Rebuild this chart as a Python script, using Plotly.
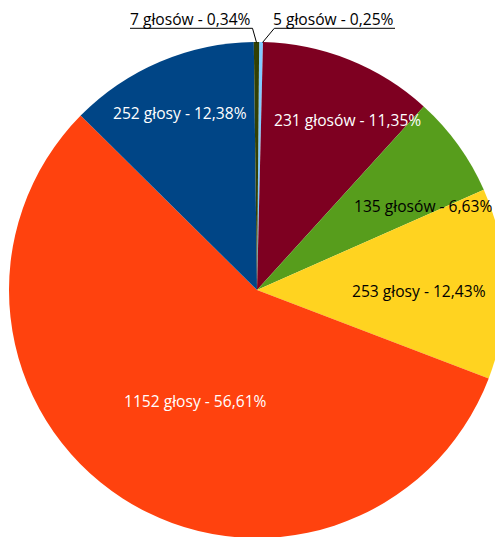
import math
import plotly.graph_objects as go

# Data (clockwise from 12 o'clock)
votes = [5, 231, 135, 253, 1152, 252, 7]
labels = ["5 głosów - 0,25%", "231 głosów - 11,35%", "135 głosów - 6,63%",
          "253 głosy - 12,43%", "1152 głosy - 56,61%", "252 głosy - 12,38%",
          "7 głosów - 0,34%"]
colors = ["#83CAFF", "#7E0021", "#579D1C", "#FFD320", "#FF420E", "#004586", "#314004"]
text_colors = ["#000000", "#FFFFFF", "#000000", "#000000", "#FFFFFF", "#FFFFFF", "#000000"]

W, H = 514, 580
CX, CY, R = 257, 290, 248

fig = go.Figure(go.Pie(
    values=votes,
    labels=labels,
    sort=False,
    direction="clockwise",
    rotation=0.5,
    marker=dict(colors=colors, line=dict(width=0)),
    textinfo="none",
    hoverinfo="label",
    showlegend=False,
    domain=dict(x=[(CX - R) / W, (CX + R) / W], y=[0, 1]),
))

# label positions in pixels (label centre)
label_px = {
    0: (333, 19),
    1: (347, 120),
    2: (423, 206),
    3: (419, 291),
    4: (195, 401),
    5: (180, 113),
    6: (190, 19),
}

FONT = "Open Sans, sans-serif"
annotations = []
for i, (px, py) in label_px.items():
    annotations.append(dict(
        x=px / W, y=1 - py / H, xref="paper", yref="paper",
        text=labels[i], showarrow=False,
        xanchor="center", yanchor="middle",
        font=dict(family=FONT, size=15.6, color=text_colors[i]),
    ))

def px2paper(x, y):
    return x / W, 1 - y / H

shapes = []
# leader lines for tiny slices
for pts in [[(130, 28.3), (252.5, 28.3), (256.5, 42.5)],
            [(395, 28.3), (274.3, 28.3), (262.5, 42.5)]]:
    for (x0, y0), (x1, y1) in zip(pts[:-1], pts[1:]):
        a0 = px2paper(x0, y0)
        a1 = px2paper(x1, y1)
        shapes.append(dict(type="line", xref="paper", yref="paper",
                           x0=a0[0], y0=a0[1], x1=a1[0], y1=a1[1],
                           line=dict(color="#000000", width=1)))

fig.update_layout(
    width=W, height=H,
    margin=dict(l=0, r=0, t=0, b=0),
    paper_bgcolor="#FFFFFF",
    plot_bgcolor="#FFFFFF",
    annotations=annotations,
    shapes=shapes,
    font=dict(family=FONT),
)

fig.write_html("out.html",
               config={"displayModeBar": False},
               post_script="document.body.style.margin='0';document.body.style.overflow='hidden';document.documentElement.style.overflow='hidden';")
